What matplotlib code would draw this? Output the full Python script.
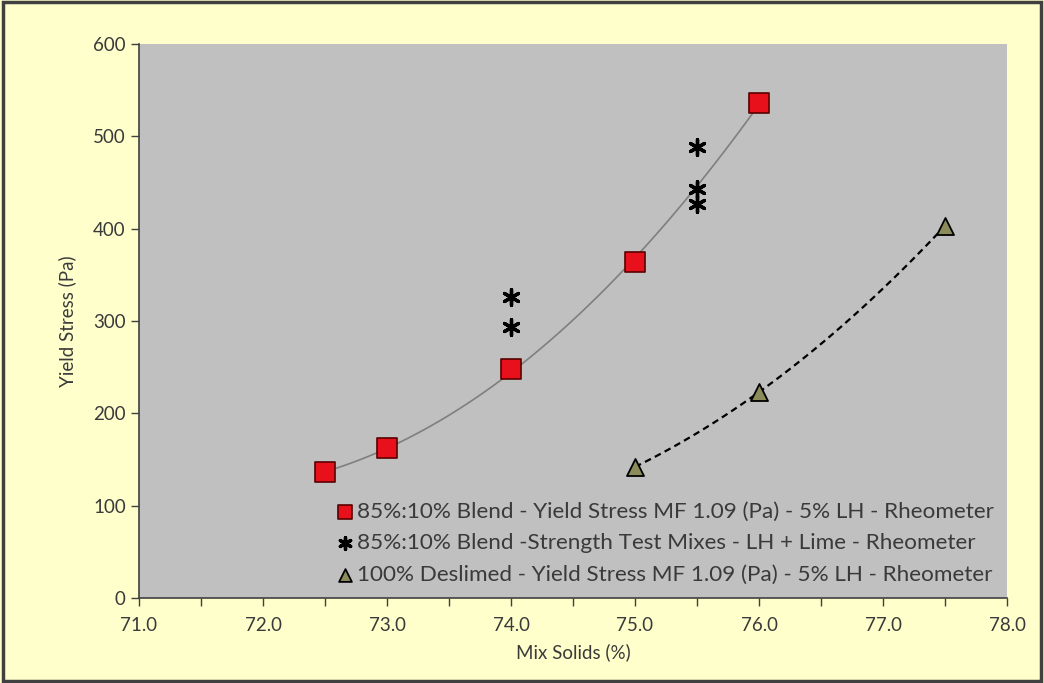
import numpy as np
import matplotlib
matplotlib.use('Agg')
import matplotlib.pyplot as plt

# Data
blend_x = [72.5, 73.0, 74.0, 75.0, 76.0]
blend_y = [136, 162, 248, 364, 536]

strength_x = [74.0, 74.0, 75.5, 75.5, 75.5]
strength_y = [326, 293, 488, 443, 427]

deslimed_x = [75.0, 76.0, 77.5]
deslimed_y = [142, 223, 403]

labels = [
    '85%:10% Blend - Yield Stress MF 1.09 (Pa) - 5% LH - Rheometer',
    '85%:10% Blend -Strength Test Mixes - LH + Lime - Rheometer',
    '100% Deslimed - Yield Stress MF 1.09 (Pa) - 5% LH - Rheometer',
]

plt.rcParams['font.family'] = ['Lato', 'DejaVu Sans']
text_col = '#3a3a3a'

fig = plt.figure(figsize=(10.44, 6.83), dpi=100)
fig.patch.set_facecolor('#FFFFCC')
ax = fig.add_axes([139 / 1044, 1 - 598 / 683, (1007 - 139) / 1044, (598 - 44) / 683])
ax.set_facecolor('#C0C0C0')

# trend lines (2nd order fits of each series)
p1 = np.polyfit(blend_x, blend_y, 2)
xs1 = np.linspace(min(blend_x), max(blend_x), 100)
ax.plot(xs1, np.polyval(p1, xs1), color='#7f7f7f', lw=1.2, zorder=2)

p3 = np.polyfit(deslimed_x, deslimed_y, 2)
xs3 = np.linspace(min(deslimed_x), max(deslimed_x), 100)
ax.plot(xs3, np.polyval(p3, xs3), color='black', lw=1.6, ls=(0, (3, 2)), zorder=2)

ax.scatter(blend_x, blend_y, marker='s', s=190, facecolor='#E8101A',
           edgecolor='#5a0000', linewidth=1.2, zorder=3, label=labels[0])
ax.scatter(strength_x, strength_y, marker=(6, 2, 0), s=130, color='black',
           linewidth=2.4, zorder=3, label=labels[1])
ax.scatter(deslimed_x, deslimed_y, marker='^', s=150, facecolor='#8c8c5a',
           edgecolor='black', linewidth=1.3, zorder=3, label=labels[2])

ax.set_xlim(71.0, 78.0)
ax.set_ylim(0, 600)
ax.set_xticks(np.arange(71, 78.01, 1.0))
ax.set_xticks(np.arange(71.5, 78, 1.0), minor=True)
ax.set_xticklabels([f'{v:.1f}' for v in np.arange(71, 78.01, 1.0)])
ax.set_yticks(np.arange(0, 601, 100))

for s in ['top', 'right']:
    ax.spines[s].set_visible(False)
for s in ['left', 'bottom']:
    ax.spines[s].set_color('#404040')
    ax.spines[s].set_linewidth(1.2)
ax.tick_params(axis='both', which='both', direction='out', colors='#404040',
               labelcolor=text_col, labelsize=13.5, length=6, width=1)
ax.tick_params(axis='x', pad=8)

ax.set_xlabel('Mix Solids (%)', fontsize=13.5, color=text_col, labelpad=6)
ax.set_ylabel('Yield Stress (Pa)', fontsize=13.5, color=text_col, labelpad=12)

leg = ax.legend(loc='lower right', frameon=False, fontsize=16.2, handletextpad=0.05,
                handlelength=0.9, labelspacing=0.5, markerscale=0.75,
                borderaxespad=0.2, bbox_to_anchor=(1.0, 0.0))
for t in leg.get_texts():
    t.set_color(text_col)

# dark border around figure
fig.add_artist(plt.Rectangle((0.003, 0.003), 0.994, 0.994, transform=fig.transFigure,
                             fill=False, edgecolor='#404040', lw=2.5))

fig.savefig('out.png', dpi=100, facecolor=fig.get_facecolor())
